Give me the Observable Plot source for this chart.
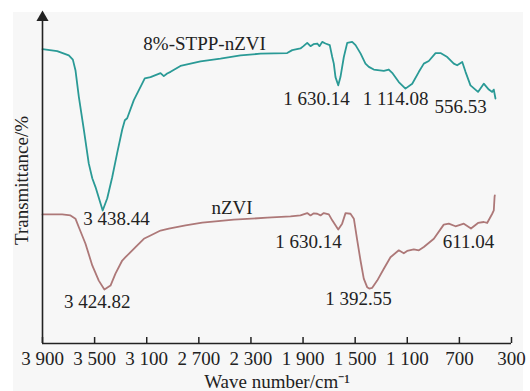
<!DOCTYPE html>
<html>
<head>
<meta charset="utf-8">
<script src="https://cdn.jsdelivr.net/npm/d3@7"></script>
<script src="https://cdn.jsdelivr.net/npm/@observablehq/plot@0.6"></script>
<style>
  html, body { margin: 0; padding: 0; background: #ffffff; }
  #wrap { position: relative; width: 530px; height: 391px; }
  #bg { position: absolute; left: 13px; top: 12px; width: 510px; height: 379px; background: #f7f7f7; }
  #chart { position: absolute; left: 0; top: 0; }
  #chart svg { background: transparent !important; }
</style>
</head>
<body>
<div id="wrap"><div id="bg"></div><div id="chart"></div></div>
<script>
// 8%-STPP-nZVI spectrum (wave number cm-1, transmittance a.u.)
const stppWave = [3900, 3787, 3698, 3667, 3647, 3621, 3583, 3545, 3518, 3493, 3438, 3403, 3365, 3327, 3288, 3268, 3250, 3199, 3135, 3115, 3071, 2994, 2969, 2943, 2917, 2841, 2687, 2534, 2380, 2227, 2022, 1983, 1920, 1897, 1868, 1843, 1820, 1791, 1774, 1753, 1728, 1695, 1676, 1664, 1651, 1630, 1613, 1587, 1561, 1523, 1497, 1459, 1421, 1395, 1357, 1280, 1242, 1216, 1165, 1114, 1062, 1011, 973, 935, 883, 845, 793, 743, 717, 678, 653, 615, 557, 513, 474, 448, 436, 423];
const stppTrans = [89.4, 88.8, 87.5, 86.2, 83.0, 74.9, 65.0, 54.7, 50.2, 47.5, 40.4, 44.1, 50.5, 57.8, 65.0, 67.8, 68.4, 73.9, 78.9, 80.5, 80.9, 82.1, 81.2, 82.0, 82.5, 84.3, 85.7, 86.5, 87.5, 88.0, 88.2, 89.1, 89.6, 90.3, 91.3, 90.3, 90.9, 91.1, 90.3, 91.6, 91.1, 90.6, 87.0, 85.0, 80.9, 78.4, 80.9, 87.0, 91.3, 91.6, 90.6, 88.1, 85.0, 84.0, 83.2, 82.8, 83.2, 82.2, 79.4, 77.4, 78.9, 82.5, 85.0, 85.8, 88.2, 88.2, 87.0, 85.0, 84.5, 85.5, 82.5, 78.4, 76.4, 78.9, 77.1, 76.4, 77.1, 74.4];

// nZVI spectrum
const nzviWave = [3900, 3749, 3685, 3647, 3621, 3570, 3518, 3468, 3425, 3378, 3340, 3288, 3263, 3186, 3122, 3071, 2994, 2930, 2802, 2674, 2572, 2432, 2175, 1996, 1920, 1868, 1843, 1820, 1791, 1766, 1741, 1702, 1676, 1630, 1600, 1574, 1536, 1510, 1484, 1459, 1434, 1408, 1392, 1369, 1331, 1280, 1229, 1165, 1127, 1101, 1050, 1011, 973, 896, 820, 781, 730, 666, 611, 557, 513, 487, 448, 436, 430, 428];
const nzviTrans = [39.2, 39.2, 38.9, 37.9, 35.3, 30.3, 23.7, 19.1, 16.4, 17.6, 21.2, 25.2, 26.2, 29.3, 31.8, 32.8, 34.3, 34.9, 35.9, 36.7, 37.1, 37.6, 38.2, 38.6, 38.9, 39.6, 38.9, 39.5, 39.4, 38.9, 39.6, 39.2, 37.4, 34.6, 36.4, 39.6, 39.4, 37.9, 31.3, 25.2, 19.7, 17.1, 16.7, 16.9, 19.1, 22.7, 26.2, 28.3, 27.4, 28.1, 28.6, 28.3, 29.3, 31.8, 36.1, 36.4, 35.6, 36.4, 34.9, 36.6, 36.9, 36.6, 39.4, 40.4, 44.5, 45.0];

// Annotations
const annText = ["8%-STPP-nZVI", "1 630.14", "1 114.08", "556.53", "3 438.44", "nZVI", "3 424.82", "1 630.14", "1 392.55", "611.04"];
const annWave = [2656, 1797, 1190, 691, 3332, 2445, 3480, 1858, 1474, 630];
const annTrans = [91.1, 74.4, 74.4, 71.7, 37.7, 41.3, 12.5, 31.0, 13.4, 31.0];

// Axis ticks
const xTicks = [3900, 3500, 3100, 2700, 2300, 1900, 1500, 1100, 700, 300];
const xTitle = "Wave number/cm\u207B\u00B9";
const yTitle = "Transmittance/%";

const stpp = stppWave.map((w, i) => ({w, t: stppTrans[i]}));
const nzvi = nzviWave.map((w, i) => ({w, t: nzviTrans[i]}));
const ann = annText.map((s, i) => ({s, w: annWave[i], t: annTrans[i]}));

const fmt = d => d >= 1000 ? `${Math.floor(d / 1000)} ${String(d % 1000).padStart(3, "0")}` : String(d);

const FONT = "Liberation Serif, Times New Roman, serif";

const chart = Plot.plot({
  width: 530,
  height: 391,
  marginLeft: 42,
  marginRight: 19,
  marginTop: 17,
  marginBottom: 48,
  style: {fontFamily: FONT, fontSize: "19px", color: "#222", background: "transparent"},
  x: {domain: [3900, 300]},
  y: {domain: [0, 99]},
  marks: [
    Plot.line(stpp, {x: "w", y: "t", stroke: "#2a9a96", strokeWidth: 1.8}),
    Plot.line(nzvi, {x: "w", y: "t", stroke: "#ad7878", strokeWidth: 1.8}),
    Plot.text(ann, {x: "w", y: "t", text: "s", fill: "#222", fontSize: 19}),
    Plot.axisX({ticks: xTicks, tickFormat: fmt, tickSize: -6, tickPadding: 14, stroke: "#222", strokeWidth: 1.5, fontSize: 19, label: xTitle, labelAnchor: "center", labelArrow: "none", labelOffset: 44}),
    Plot.axisY({ticks: [], label: null}),
    Plot.ruleY([0], {stroke: "#222", strokeWidth: 1.6}),
    Plot.ruleX([3900], {stroke: "#222", strokeWidth: 1.6}),
    Plot.dot([{w: 3900, t: 99}], {x: "w", y: "t", symbol: "triangle", r: 4.5, fill: "#222", stroke: "none"}),
    Plot.text([yTitle], {frameAnchor: "left", textAnchor: "middle", rotate: -90, dx: -21, text: d => d, fontSize: 19, fill: "#222"})
  ]
});
document.getElementById("chart").appendChild(chart);
</script>
</body>
</html>
